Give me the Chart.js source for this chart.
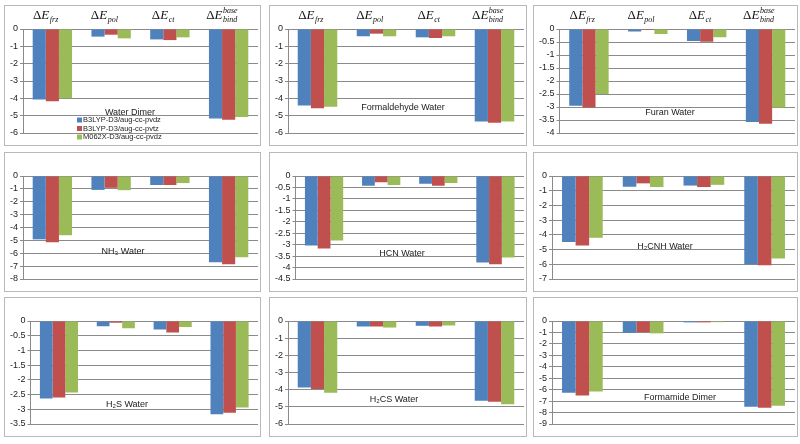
<!DOCTYPE html>
<html>
<head>
<meta charset="utf-8">
<script src="https://cdn.jsdelivr.net/npm/chart.js@4.4.0/dist/chart.umd.min.js"></script>
<style>
  body { margin: 0; background: #fff; width: 800px; height: 444px; position: relative; overflow: hidden; }
  .panel { position: absolute; border: 1px solid #b9b9b9; box-sizing: border-box; background: #fff; }
  .panel canvas { display: block; }
</style>
</head>
<body>
<script>
// Energy terms (x categories) and methods (series)
const terms = ['frz', 'pol', 'ct', 'bind'];
const methods = ['B3LYP-D3/aug-cc-pvdz', 'B3LYP-D3/aug-cc-pvtz', 'M062X-D3/aug-cc-pvdz'];
const colors = ['#4F81BD', '#C0504D', '#9BBB59'];

// Values per system, one row per method: [frz, pol, ct, bind]
const waterDimer = [[-4.07, -0.44, -0.6, -5.17], [-4.17, -0.33, -0.64, -5.23], [-4.0, -0.54, -0.48, -5.08]];
const formaldehydeWater = [[-4.42, -0.42, -0.48, -5.33], [-4.57, -0.27, -0.52, -5.41], [-4.48, -0.42, -0.42, -5.33]];
const furanWater = [[-2.95, -0.1, -0.46, -3.58], [-3.02, -0.04, -0.49, -3.64], [-2.5, -0.19, -0.32, -3.02]];
const nh3Water = [[-4.92, -1.08, -0.7, -6.7], [-5.15, -0.92, -0.7, -6.85], [-4.6, -1.1, -0.55, -6.32]];
const hcnWater = [[-3.04, -0.43, -0.34, -3.78], [-3.17, -0.27, -0.43, -3.86], [-2.82, -0.39, -0.31, -3.56]];
const h2cnhWater = [[-4.48, -0.73, -0.65, -6.0], [-4.73, -0.5, -0.75, -6.06], [-4.2, -0.75, -0.6, -5.6]];
const h2sWater = [[-2.63, -0.18, -0.29, -3.17], [-2.6, -0.06, -0.39, -3.12], [-2.43, -0.25, -0.2, -2.94]];
const h2csWater = [[-3.87, -0.32, -0.28, -4.65], [-3.96, -0.32, -0.32, -4.71], [-4.18, -0.38, -0.26, -4.85]];
const formamideDimer = [[-6.27, -1.03, -0.12, -7.49], [-6.5, -0.97, -0.12, -7.58], [-6.15, -1.08, -0.1, -7.4]];

const titles = ['Water Dimer', 'Formaldehyde Water', 'Furan Water', 'NH\u2083 Water', 'HCN Water',
  'H\u2082CNH Water', 'H\u2082S Water', 'H\u2082CS Water', 'Formamide Dimer'];
const systems = [waterDimer, formaldehydeWater, furanWater, nh3Water, hcnWater, h2cnhWater, h2sWater, h2csWater, formamideDimer];
const axisMin = [-6, -6, -4, -8, -4.5, -7, -3.5, -6, -9];
const axisStep = [1, 1, 0.5, 1, 0.5, 1, 0.5, 1, 1];

// Panel boxes and title anchors (layout only)
const cols = [[4, 257], [269, 258], [533, 265]];
const rows = [[5, 141], [152, 140], [297, 140]];
const titlePos = [[125, 107], [133, 102], [136, 107], [118, 99], [132, 101], [131, 94], [122, 107], [124, 102], [146, 100]];

const serif = '"Liberation Serif", "Times New Roman", serif';
const sans = '"Liberation Sans", Arial, sans-serif';

function drawTerm(ctx, t, cx, y) {
  ctx.font = '13px ' + serif;
  const wD = ctx.measureText('\u0394').width;
  ctx.font = 'italic 13px ' + serif;
  const wE = ctx.measureText('E').width;
  ctx.font = 'italic 8px ' + serif;
  const wS = Math.max(ctx.measureText(t).width, t === 'bind' ? ctx.measureText('base').width : 0);
  let x = cx - (wD + wE + wS) / 2;
  ctx.textAlign = 'left';
  ctx.textBaseline = 'alphabetic';
  ctx.fillStyle = '#111';
  ctx.font = '13px ' + serif;
  ctx.fillText('\u0394', x, y);
  x += wD;
  ctx.font = 'italic 13px ' + serif;
  ctx.fillText('E', x, y);
  x += wE + 0.5;
  ctx.font = 'italic 8px ' + serif;
  ctx.fillText(t, x, y + 3);
  if (t === 'bind') ctx.fillText('base', x, y - 6);
}

// Headers, inner titles and the legend of the first panel
const panelText = {
  id: 'panelText',
  afterDraw(chart, args, opts) {
    const ctx = chart.ctx;
    const xs = chart.scales.x;
    ctx.save();
    if (opts.header) {
      terms.forEach((t, i) => drawTerm(ctx, t, xs.getPixelForValue(i) - 7, 13));
    }
    ctx.fillStyle = '#222';
    ctx.font = '9px ' + sans;
    ctx.textAlign = 'center';
    ctx.textBaseline = 'middle';
    ctx.fillText(opts.title, opts.tx, opts.ty);
    if (opts.legend) {
      ctx.font = '7.5px ' + sans;
      ctx.textAlign = 'left';
      chart.data.datasets.forEach((ds, i) => {
        const y = 114 + i * 8.5;
        ctx.fillStyle = ds.backgroundColor;
        ctx.fillRect(72, y - 2.5, 5, 5);
        ctx.fillStyle = '#222';
        ctx.fillText(ds.label, 78, y);
      });
    }
    ctx.restore();
  }
};

systems.forEach((vals, k) => {
  const [left, w] = cols[k % 3];
  const [top, h] = rows[Math.floor(k / 3)];
  const div = document.createElement('div');
  div.className = 'panel';
  div.style.left = left + 'px';
  div.style.top = top + 'px';
  div.style.width = w + 'px';
  div.style.height = h + 'px';
  const canvas = document.createElement('canvas');
  canvas.width = w - 2;
  canvas.height = h - 2;
  div.appendChild(canvas);
  document.body.appendChild(div);

  new Chart(canvas.getContext('2d'), {
    type: 'bar',
    data: {
      labels: terms,
      datasets: methods.map((m, i) => ({
        label: m,
        data: vals[i],
        backgroundColor: colors[i],
        borderWidth: 0,
        barPercentage: 1,
        categoryPercentage: 0.67
      }))
    },
    options: {
      responsive: false,
      animation: false,
      events: [],
      layout: { padding: { top: 23, bottom: 12, left: 3, right: 2 } },
      plugins: {
        legend: { display: false },
        tooltip: { enabled: false },
        panelText: {
          header: k < 3,
          legend: k === 0,
          title: titles[k],
          tx: titlePos[k][0],
          ty: titlePos[k][1]
        }
      },
      scales: {
        x: { display: false },
        y: {
          min: axisMin[k],
          max: 0,
          grid: { color: '#8a8a8a', tickLength: 3 },
          border: { display: true, color: '#8a8a8a' },
          ticks: {
            stepSize: axisStep[k],
            autoSkip: false,
            padding: 2,
            color: '#222',
            font: { size: 9, family: sans },
            callback: v => String(Math.round(v * 10) / 10)
          }
        }
      }
    },
    plugins: [panelText]
  });
});
</script>
</body>
</html>
